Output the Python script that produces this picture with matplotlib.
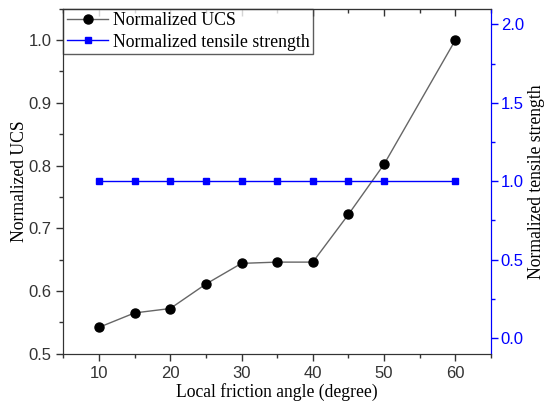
import matplotlib
matplotlib.use("Agg")
import matplotlib.pyplot as plt
from matplotlib.ticker import MultipleLocator

angle = [10, 15, 20, 25, 30, 35, 40, 45, 50, 60]
ucs = [0.542, 0.565, 0.572, 0.611, 0.644, 0.646, 0.646, 0.722, 0.802, 1.000]
tensile = [1.0, 1.0, 1.0, 1.0, 1.0, 1.0, 1.0, 1.0, 1.0, 1.0]

serif = "Liberation Serif"
sans = "Liberation Sans"

W, H = 545, 401
L, R, B, T = 63.3, 491, 353.7, 8.7
fig = plt.figure(figsize=(W/100, H/100), dpi=100)
ax = fig.add_axes([L/W, 1-B/H, (R-L)/W, (B-T)/H])
ax2 = ax.twinx()

l1, = ax.plot(angle, ucs, color="#666666", lw=1.0, marker="o", ms=6.5,
              mfc="black", mec="black", label="Normalized UCS")
l2, = ax2.plot(angle, tensile, color="blue", lw=1.0, marker="s", ms=5,
               mfc="blue", mec="blue", label="Normalized tensile strength")

ax.set_xlim(5, 65)
ax.set_ylim(0.5, 1.05)
ax2.set_ylim(-0.1, 2.1)

ax.xaxis.set_major_locator(MultipleLocator(10))
ax.xaxis.set_minor_locator(MultipleLocator(5))
ax.yaxis.set_major_locator(MultipleLocator(0.1))
ax.yaxis.set_minor_locator(MultipleLocator(0.05))
ax2.yaxis.set_major_locator(MultipleLocator(0.5))
ax2.yaxis.set_minor_locator(MultipleLocator(0.25))

ax.tick_params(axis="x", which="both", direction="out", top=False)
ax.tick_params(axis="x", which="major", length=5, width=1)
ax.tick_params(axis="x", which="minor", length=3, width=1)
ax.tick_params(axis="y", which="major", direction="out", length=5, width=1)
ax.tick_params(axis="y", which="minor", direction="out", length=3, width=1)
ax2.tick_params(axis="y", which="major", direction="out", length=5, width=1, colors="blue", pad=2)
ax2.tick_params(axis="y", which="minor", direction="out", length=3, width=1, colors="blue")

# top inward ticks via secondary axis
top = ax.secondary_xaxis("top")
top.xaxis.set_major_locator(MultipleLocator(10))
top.xaxis.set_minor_locator(MultipleLocator(5))
top.tick_params(axis="x", which="major", direction="in", length=5, width=1, labeltop=False, color="#333333")
top.tick_params(axis="x", which="minor", direction="in", length=3, width=1, color="#333333")
top.spines["top"].set_color("#333333")

for lab in ax.get_xticklabels() + ax.get_yticklabels() + ax2.get_yticklabels():
    lab.set_fontfamily(sans)
    lab.set_fontsize(12)
for lab in ax2.get_yticklabels():
    lab.set_color("blue")

for s in ["left", "bottom", "top"]:
    ax.spines[s].set_color("#333333")
    ax2.spines[s].set_color("#333333")
ax2.spines["right"].set_color("blue")
ax.spines["right"].set_color("blue")
ax.tick_params(colors="#333333", which="both")
for lab in ax.get_xticklabels() + ax.get_yticklabels():
    lab.set_color("#333333")

ax.set_xlabel("Local friction angle (degree)", fontfamily=serif, fontsize=12.7, labelpad=2)
ax.set_ylabel("Normalized UCS", fontfamily=serif, fontsize=12.7, labelpad=0.5)
ax2.set_ylabel("Normalized tensile strength", fontfamily=serif, fontsize=12.7, labelpad=3)

leg = ax.legend(handles=[l1, l2], loc="upper left", bbox_to_anchor=(0.0, 1.0),
                prop={"family": serif, "size": 12.75}, frameon=True, fancybox=False,
                borderaxespad=0.0, handlelength=2.35, handletextpad=0.25,
                borderpad=0.2, labelspacing=0.25)
leg.get_frame().set_edgecolor("#333333")
leg.get_frame().set_linewidth(1.0)

fig.savefig("out.png", dpi=100)
